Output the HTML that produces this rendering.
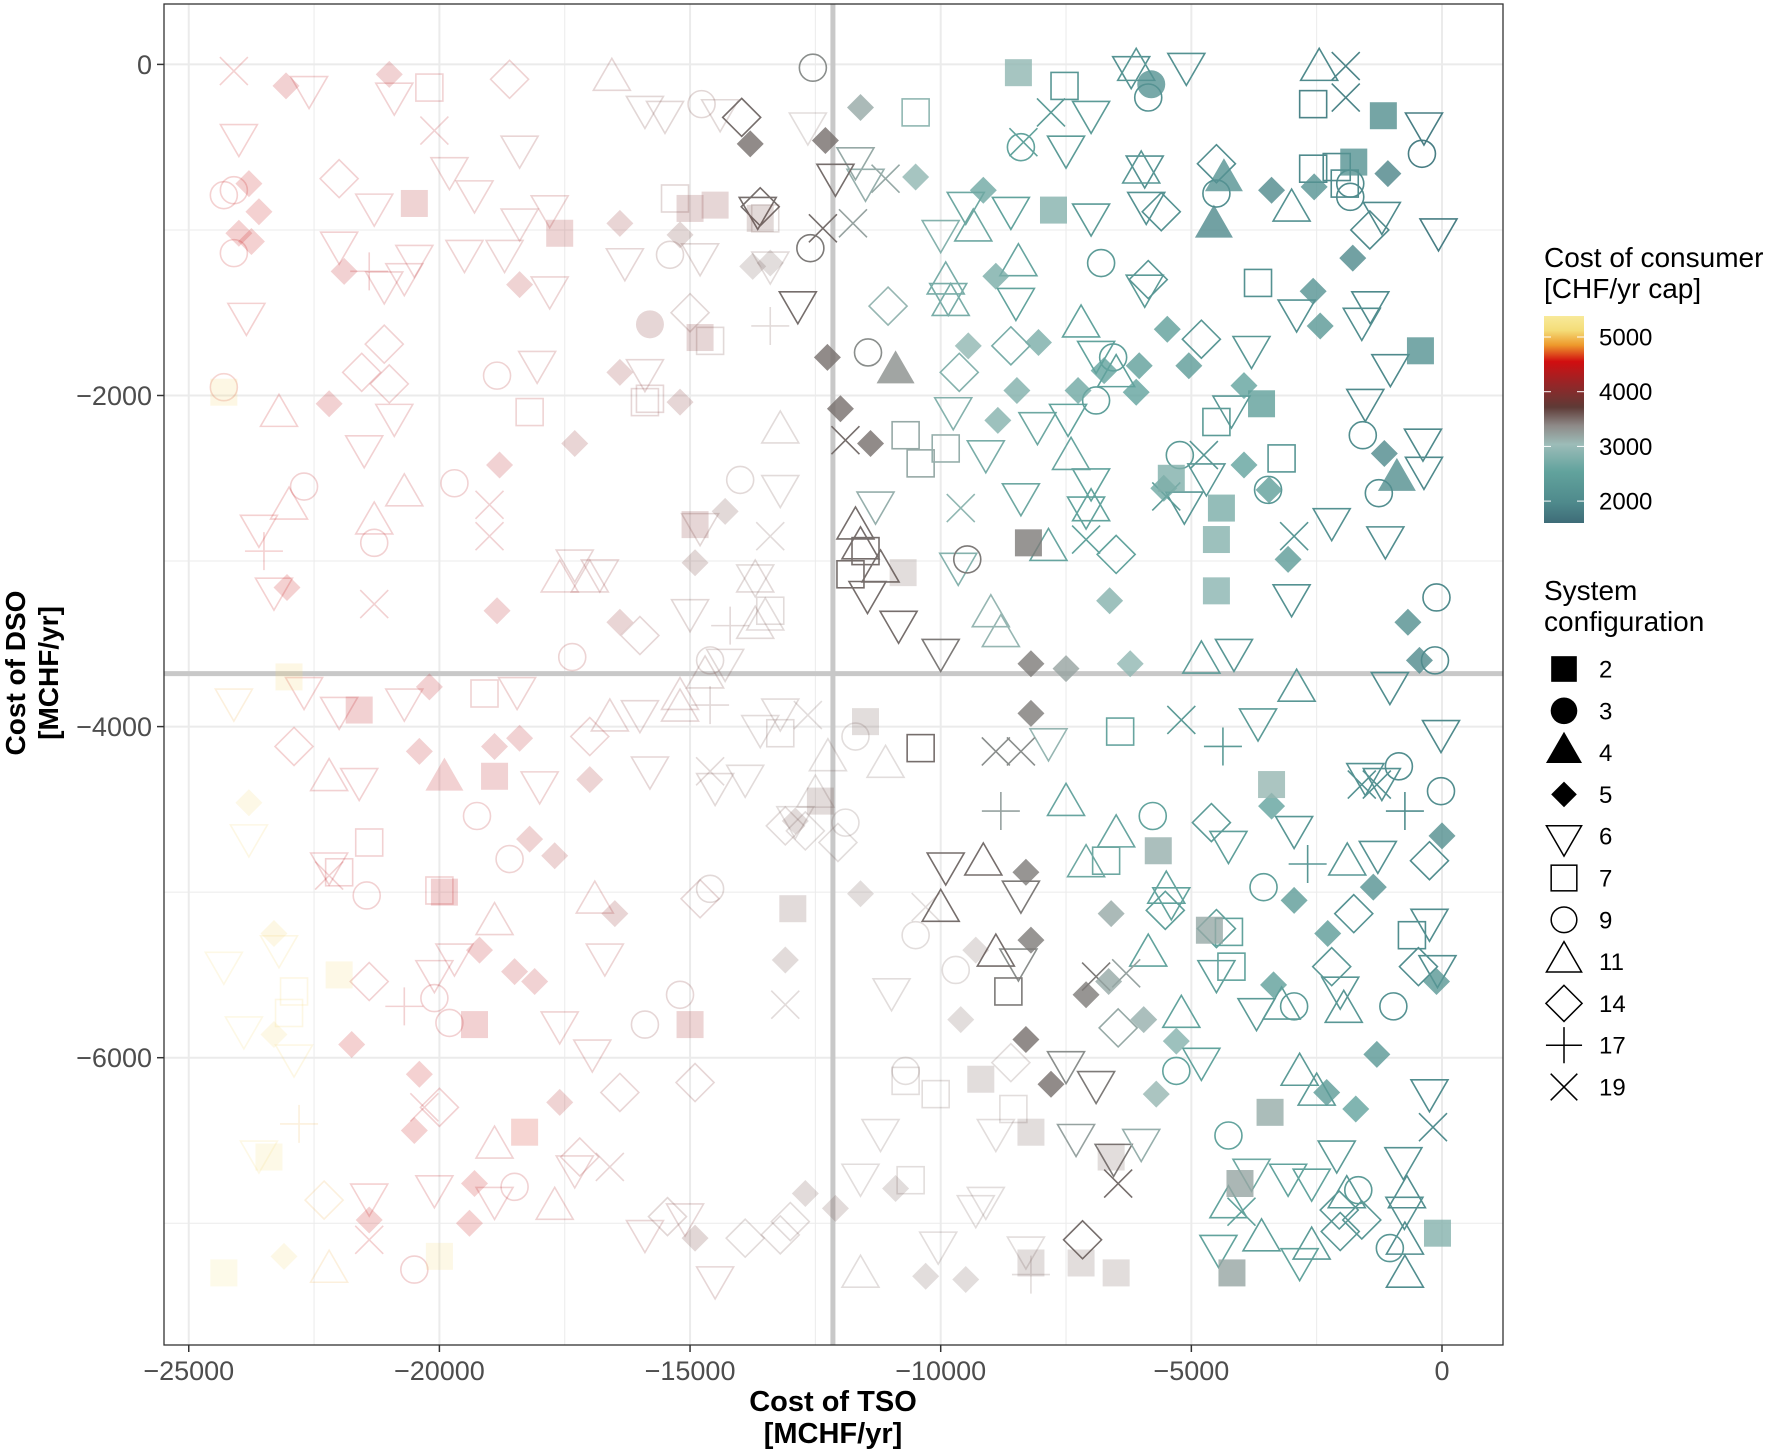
<!DOCTYPE html>
<html><head><meta charset="utf-8">
<style>
html,body{margin:0;padding:0;background:#fff;}
svg{display:block;font-family:"Liberation Sans",Arial,sans-serif;}
</style></head>
<body>
<svg id="chart" width="1772" height="1454" viewBox="0 0 1772 1454" xmlns="http://www.w3.org/2000/svg">
  <defs>
    <linearGradient id="cbar" x1="0" y1="1" x2="0" y2="0">
      <stop offset="0" stop-color="#3e6c78"/>
      <stop offset="0.1" stop-color="#4f8a8c"/>
      <stop offset="0.25" stop-color="#62a39d"/>
      <stop offset="0.38" stop-color="#9cbcb8"/>
      <stop offset="0.47" stop-color="#8e8a88"/>
      <stop offset="0.56" stop-color="#5e3a36"/>
      <stop offset="0.68" stop-color="#9a2426"/>
      <stop offset="0.78" stop-color="#d10e10"/>
      <stop offset="0.86" stop-color="#ee9a2c"/>
      <stop offset="0.93" stop-color="#f4dc78"/>
      <stop offset="1" stop-color="#f8ea9a"/>
    </linearGradient>
    <clipPath id="panelClip"><rect x="164" y="4" width="1339" height="1341"/></clipPath>
  </defs>
  <rect x="164" y="4" width="1339" height="1341" fill="#fff"/>
  <g id="grid"></g>
  <g id="refs"></g>
  <g id="points" clip-path="url(#panelClip)"></g>
  <rect x="164" y="4" width="1339" height="1341" fill="none" stroke="#333" stroke-width="1.3"/>
  <g id="axes"></g>
  <text x="833" y="1411" text-anchor="middle" font-size="29" font-weight="bold">Cost of TSO</text>
  <text x="833" y="1443" text-anchor="middle" font-size="29" font-weight="bold">[MCHF/yr]</text>
  <g transform="translate(0,673) rotate(-90)">
    <text x="0" y="25" text-anchor="middle" font-size="28" font-weight="bold">Cost of DSO</text>
    <text x="0" y="58" text-anchor="middle" font-size="28" font-weight="bold">[MCHF/yr]</text>
  </g>
  <g id="legend">
    <text x="1544" y="267" font-size="28">Cost of consumer</text>
    <text x="1544" y="298" font-size="28">[CHF/yr cap]</text>
    <rect x="1544" y="316" width="40" height="207" fill="url(#cbar)"/>
    <g id="cbticks"></g>
    <text x="1544" y="600" font-size="28">System</text>
    <text x="1544" y="631" font-size="28">configuration</text>
    <g id="shapeLegend"></g>
  </g>
</svg>
<script>
// ---- data (x, y in thousands MCHF/yr; cost in CHF/yr cap) ----
const xTicks = [-25000, -20000, -15000, -10000, -5000, 0];
const yTicks = [0, -2000, -4000, -6000];
const colorTicks = [5000, 4000, 3000, 2000];
const shapeCodes = [2, 3, 4, 5, 6, 7, 9, 11, 14, 17, 19];
const refX = -12150;
const refY = -3680;
const fadeAbove = 3330;

const pts2 = [[-1.17,-0.31,1950],[-1.76,-0.59,2000],[-0.43,-1.73,2000],[-3.6,-2.05,2150],[-4.4,-2.68,2400],[-5.4,-2.5,2450],[-4.5,-2.87,2500],[-4.5,-3.18,2550],[-3.4,-4.35,2700],[-5.66,-4.75,2800],[-4.64,-5.23,2900],[-3.43,-6.33,2850],[-4.03,-6.76,2950],[-4.19,-7.3,2950],[-0.09,-7.06,2500],[-8.25,-2.89,3200],[-7.75,-0.88,2500],[-8.45,-0.05,2600],[-19.9,-5.0,4300],[-24.3,-1.98,4900],[-23.0,-3.7,4900],[-22.0,-5.5,5000],[-24.3,-7.3,5200],[-23.4,-6.6,5100],[-20.0,-7.2,5000],[-18.3,-6.45,4500],[-15.0,-5.8,4000],[-14.8,-1.65,3800],[-14.5,-0.85,3800],[-15.0,-0.87,3800],[-13.6,-0.93,3600],[-12.4,-4.45,3500],[-11.5,-3.97,3400],[-9.2,-6.13,3400],[-8.2,-6.45,3400],[-7.2,-7.24,3400],[-6.6,-6.6,3400],[-12.95,-5.1,3500],[-17.6,-1.02,4000],[-20.5,-0.84,4100],[-19.3,-5.8,4300],[-18.9,-4.3,4200],[-21.6,-3.9,4300],[-14.9,-2.78,3800],[-8.2,-7.24,3400],[-6.5,-7.3,3400],[-10.75,-3.07,3400]];
const pts3 = [[-5.8,-0.12,2000],[-15.8,-1.57,3800]];
const pts4 = [[-4.55,-0.98,1900],[-4.35,-0.7,2000],[-10.9,-1.86,3100],[-0.9,-2.51,1950],[-19.9,-4.32,4300]];
const pts5 = [[-3.4,-0.76,1900],[-2.55,-0.74,2000],[-1.08,-0.66,1850],[-1.78,-1.17,1900],[-2.57,-1.37,2000],[-2.43,-1.58,2050],[-6.04,-1.82,2150],[-5.05,-1.82,2100],[-5.48,-1.6,2150],[-6.1,-1.98,2200],[-6.74,-1.85,2200],[-7.26,-1.97,2300],[-8.05,-1.68,2400],[-8.48,-1.97,2450],[-8.86,-2.15,2500],[-8.9,-1.28,2400],[-9.45,-1.7,2600],[-9.15,-0.76,2300],[-10.5,-0.68,2600],[-11.6,-0.26,2900],[-12.3,-0.46,3250],[-13.8,-0.48,3250],[-12.26,-1.77,3250],[-12.0,-2.08,3250],[-11.4,-2.29,3250],[-3.95,-2.42,2200],[-3.45,-2.57,2150],[-3.95,-1.94,2200],[-3.07,-2.99,2100],[-1.15,-2.35,1900],[-0.68,-3.37,1950],[-0.45,-3.6,1900],[0,-4.66,1950],[-1.37,-4.97,2000],[-2.95,-5.05,2100],[-2.28,-5.25,2100],[-0.11,-5.54,2050],[-1.3,-5.98,2050],[-3.36,-5.56,2150],[-2.3,-6.21,2100],[-1.72,-6.31,2200],[-5.7,-6.22,2700],[-5.3,-5.9,2500],[-5.95,-5.77,2800],[-6.65,-5.54,2900],[-6.6,-5.13,2900],[-7.1,-5.62,3200],[-7.8,-6.16,3250],[-8.3,-5.89,3250],[-8.2,-5.29,3200],[-8.3,-4.88,3200],[-8.2,-3.92,3200],[-8.2,-3.62,3200],[-7.5,-3.65,3000],[-6.22,-3.62,2600],[-6.63,-3.24,2500],[-3.4,-4.48,2200],[-5.55,-2.56,2300],
[-21,-0.06,4200],[-23.06,-0.13,4300],[-23.8,-0.72,4400],[-23.6,-0.89,4400],[-24,-1.02,4400],[-23.75,-1.07,4400],[-21.9,-1.25,4300],[-22.2,-2.05,4300],[-23.04,-3.16,4400],[-20.2,-3.76,4300],[-20.4,-4.15,4300],[-18.8,-2.42,4200],[-18.4,-1.33,4100],[-18.85,-3.3,4200],[-18.9,-4.12,4200],[-18.4,-4.07,4200],[-18.2,-4.68,4100],[-17.7,-4.78,4000],[-17,-4.32,4000],[-16.4,-1.86,3900],[-15.2,-2.04,3800],[-14.9,-3.01,3700],[-16.4,-3.37,3900],[-14.3,-2.7,3600],[-13.75,-1.22,3400],[-13.4,-1.2,3400],[-15.2,-1.03,3700],[-16.4,-0.96,3900],[-17.3,-2.29,3900],[-18.5,-5.48,4200],[-18.1,-5.54,4200],[-19.2,-5.35,4300],[-20.4,-6.1,4400],[-20.5,-6.44,4400],[-21.75,-5.92,4400],[-21.4,-6.98,4400],[-19.3,-6.76,4400],[-19.4,-7.0,4400],[-17.6,-6.27,4100],[-23.3,-5.25,4900],[-23.1,-7.2,5000],[-23.3,-5.86,5000],[-23.8,-4.46,5000],[-13.1,-5.41,3500],[-12.9,-4.57,3500],[-12.1,-6.91,3500],[-12.7,-6.82,3500],[-11.6,-5.01,3400],[-10.9,-6.79,3400],[-10.3,-7.32,3400],[-9.5,-7.34,3400],[-9.6,-5.77,3400],[-9.3,-5.35,3400],[-16.5,-5.13,3900],[-14.9,-7.09,3700]];
const pts6 = [[-5.1,0,2000],[-6.2,-0.02,2000],[-7,-0.29,2100],[-7.5,-0.5,2100],[-0.36,-0.36,1800],[-0.07,-1.0,1800],[-1.2,-0.9,1900],[-1.43,-1.44,1900],[-1.03,-1.82,1900],[-1.53,-2.03,1900],[-0.38,-2.27,1900],[-0.36,-2.44,1900],[-1.13,-2.86,1950],[-2.2,-2.75,2000],[-3,-3.21,2000],[-4.15,-3.54,2050],[-1.04,-3.74,1950],[-3.8,-1.71,2050],[-2.9,-1.49,2000],[-1.6,-1.54,1950],[-5.93,-0.62,2000],[-5.9,-0.84,2000],[-7,-0.91,2100],[-8.6,-0.87,2200],[-9.5,-0.84,2300],[-10,-1.01,2500],[-8.5,-1.42,2200],[-9.85,-1.39,2400],[-11.7,-0.57,2900],[-11.5,-0.7,2800],[-12.85,-1.44,3250],[-13.65,-0.87,3250],[-8.07,-2.17,2300],[-9.75,-2.08,2500],[-9.1,-2.34,2400],[-11.3,-2.65,2800],[-9.65,-3.02,2500],[-8.4,-2.6,2300],[-7.1,-2.68,2200],[-7,-2.51,2200],[-4.7,-2.48,2050],[-5.14,-2.65,2050],[-4.2,-2.07,2050],[-5.93,-1.34,2100],[-6.9,-1.74,2200],[-7.46,-2.12,2200],[-10.84,-3.37,3250],[-11.46,-3.19,3250],[-10,-3.54,3200],[-9.9,-4.83,3250],[-8.4,-5,3200],[-7.85,-4.08,2700],[-8.45,-5.41,3100],[-6.9,-6.15,3200],[-6.55,-6.59,3200],[-6,-6.5,2800],[-7.5,-6.03,3100],[-4.8,-6.01,2200],[-3.8,-6.68,2300],[-3.07,-6.71,2200],[-2.6,-6.74,2200],[-0.77,-6.61,2000],[-0.75,-6.91,2000],[-0.25,-6.2,1950],[-4.46,-7.14,2200],[-2.84,-7.22,2200],[-2.1,-6.57,2100],[-0.09,-5.45,1950],[-0.25,-5.17,1950],[-1.28,-4.76,2000],[-1.2,-4.32,2000],[-0.02,-4.03,1900],[-1.53,-4.29,2000],[-2.95,-4.61,2050],[-4.26,-4.7,2150],[-5.4,-5.04,2200],[-4.5,-5.48,2150],[-3.67,-3.96,2100],[-2.03,-5.58,2050],[-3.7,-5.71,2100],
[-24,-0.43,4400],[-23.85,-1.51,4400],[-23.6,-2.79,4400],[-23.3,-3.17,4400],[-24.1,-3.84,4800],[-23.8,-4.66,4900],[-24.3,-5.43,5000],[-23.9,-5.82,5000],[-23.2,-5.33,4900],[-22.9,-5.99,4900],[-23.6,-6.57,5000],[-22.6,-0.14,4300],[-20.9,-0.18,4200],[-21.3,-0.85,4200],[-22,-1.08,4300],[-20.7,-1.27,4200],[-21.1,-1.32,4200],[-19.5,-1.13,4100],[-18.4,-0.94,4000],[-18.7,-1.13,4000],[-18.05,-1.8,4000],[-17.8,-1.35,4000],[-18.4,-0.5,3900],[-19.8,-0.63,4100],[-20.9,-2.12,4200],[-21.5,-2.31,4300],[-22,-3.89,4300],[-22.7,-3.77,4400],[-21.6,-4.32,4300],[-22.2,-4.83,4300],[-20.7,-3.84,4200],[-18.45,-3.77,4100],[-18,-4.34,4100],[-19.7,-5.38,4200],[-20.1,-5.48,4200],[-17.6,-5.79,4100],[-16.7,-5.38,4000],[-16.95,-5.96,4000],[-17.3,-6.66,4000],[-20.1,-6.78,4300],[-21.4,-6.83,4400],[-18.9,-6.85,4200],[-15.9,-7.05,3900],[-15.1,-6.95,3800],[-14.5,-7.33,3800],[-14.8,-2.78,3700],[-14.8,-1.15,3700],[-15.5,-0.29,3700],[-15.9,-1.85,3800],[-17.3,-3.0,3900],[-16.8,-3.06,3900],[-13.2,-2.55,3500],[-13.7,-3.09,3500],[-15.0,-3.3,3700],[-14.3,-3.6,3600],[-13.2,-3.9,3500],[-13.6,-4.0,3500],[-13.9,-4.3,3500],[-16,-3.91,3800],[-15.8,-4.25,3800],[-12.9,-4.55,3400],[-14.5,-4.35,3600],[-11.6,-6.71,3400],[-11.2,-6.44,3400],[-10.98,-5.59,3400],[-10.05,-7.12,3400],[-9.1,-6.85,3400],[-8.9,-6.44,3400],[-8.3,-7.15,3400],[-9.3,-6.9,3400],[-7.3,-6.47,3000],[-12.65,-0.36,3400],[-12.1,-0.67,3250],[-13.4,-1.2,3500],[-14.4,-0.28,3600],[-15.9,-0.26,3700],[-16.3,-1.18,3800],[-19.3,-0.77,4100],[-20.5,-1.16,4200],[-17.8,-0.86,4000]];
const pts7 = [[-7.53,-0.13,2050],[-2.57,-0.24,1850],[-2.1,-0.62,1900],[-2.57,-0.63,1900],[-1.94,-0.72,1900],[-3.67,-1.32,2000],[-0.6,-5.26,1950],[-6.7,-4.81,2300],[-6.42,-4.03,2250],[-4.25,-5.24,2200],[-4.2,-5.45,2200],[-8.65,-5.6,3200],[-10.4,-4.13,3250],[-11.5,-2.94,3250],[-11.8,-3.08,3250],[-10.7,-2.24,2900],[-10.4,-2.41,2900],[-9.9,-2.32,2800],[-3.2,-2.38,2050],[-4.5,-2.16,2100],[-10.5,-0.29,2600],
[-20.2,-0.14,4200],[-21.4,-4.7,4300],[-20,-4.99,4300],[-22,-4.88,4300],[-18.2,-2.1,4100],[-15.9,-2.04,3800],[-19.1,-3.8,4100],[-23,-5.73,4900],[-22.9,-5.6,4900],[-10.7,-6.14,3400],[-10.1,-6.22,3400],[-8.55,-6.31,3400],[-10.6,-6.74,3400],[-13.4,-3.3,3500],[-13.2,-4.04,3500],[-13.5,-0.93,3500],[-15.3,-0.81,3700],[-14.6,-1.67,3600],[-15.8,-2.02,3800]];
const pts9 = [[-12.55,-0.02,3100],[-12.6,-1.11,3200],[-11.45,-1.74,3100],[-5.86,-0.2,2000],[-8.4,-0.5,2200],[-4.5,-0.78,1950],[-1.83,-0.72,1900],[-0.4,-0.54,1800],[-1.83,-0.8,1900],[-6.8,-1.2,2100],[-6.56,-1.77,2150],[-6.9,-2.03,2150],[-5.23,-2.36,2100],[-3.47,-2.57,2050],[-1.58,-2.24,1950],[-1.26,-2.59,1950],[-0.11,-3.22,1900],[-0.14,-3.6,1900],[-0.86,-4.24,1950],[-0.02,-4.39,1950],[-5.77,-4.54,2200],[-3.56,-4.97,2150],[-2.95,-5.69,2100],[-0.97,-5.69,2000],[-5.3,-6.08,2200],[-4.26,-6.47,2200],[-1.67,-6.8,2100],[-1.04,-7.15,2050],[-9.47,-2.99,3200],
[-14.77,-0.24,3700],[-15.4,-1.15,3700],[-18.85,-1.88,4100],[-19.7,-2.53,4200],[-22.7,-2.55,4300],[-21.3,-2.89,4300],[-24.1,-1.14,4400],[-24.3,-0.79,4400],[-24.1,-0.76,4400],[-24.3,-1.95,4500],[-17.35,-3.58,4000],[-14,-2.51,3600],[-14.6,-3.6,3600],[-11.7,-4.06,3400],[-11.9,-4.58,3400],[-14.6,-4.98,3600],[-18.6,-4.8,4100],[-19.25,-4.54,4200],[-21.45,-5.02,4300],[-20.1,-5.64,4300],[-19.8,-5.79,4300],[-15.9,-5.8,3800],[-15.2,-5.62,3800],[-18.5,-6.78,4200],[-20.5,-7.28,4300],[-10.5,-5.26,3400],[-9.7,-5.47,3400],[-10.7,-6.08,3400]];
const pts11 = [[-2.45,-0.03,1900],[-6.1,-0.03,2050],[-7.5,-4.47,2250],[-2.84,-6.1,2100],[-1.96,-5.72,2050],[-1.89,-4.83,2050],[-0.74,-7.32,1950],[-0.74,-7.12,1950],[-0.7,-6.84,1950],[-2.6,-7.15,2100],[-3.6,-7.1,2150],[-1.9,-6.84,2050],[-2.5,-6.22,2100],[-4.26,-6.9,2200],[-7.2,-1.58,2200],[-8.45,-1.21,2250],[-9.35,-1,2300],[-9.8,-1.45,2400],[-9.9,-1.32,2400],[-7.4,-2.38,2250],[-9,-3.33,2700],[-8.8,-3.45,2700],[-11.7,-2.8,3250],[-11.2,-3.06,3250],[-11.6,-2.92,3250],[-9.15,-4.83,3250],[-8.9,-5.38,3250],[-10.0,-5.11,3250],[-5.86,-5.38,2200],[-6.5,-4.66,2250],[-7.1,-4.84,2300],[-5.2,-5.75,2200],[-3.2,-5.7,2100],[-5.5,-5.0,2200],[-2.9,-3.78,2050],[-4.8,-3.61,2100],[-6.5,-1.88,2150],[-7.85,-2.93,2250],[-7.0,-2.69,2200],[-3.0,-0.88,2000],[-6.0,-0.65,2050],
[-16.56,-0.09,3800],[-23.2,-2.12,4400],[-23.0,-2.68,4400],[-22.2,-4.32,4300],[-21.3,-2.77,4300],[-20.7,-2.6,4200],[-18.9,-5.19,4100],[-18.9,-6.54,4200],[-17.7,-6.91,4100],[-22.2,-7.29,4800],[-17.0,-3.12,3900],[-16.6,-3.96,3900],[-15.2,-3.83,3800],[-13.7,-3.4,3600],[-14.7,-3.7,3700],[-17.6,-3.12,4000],[-16.9,-5.06,4000],[-15.2,-3.9,3800],[-13.7,-3.12,3600],[-12.25,-4.2,3400],[-11.1,-4.24,3400],[-11.6,-7.32,3400],[-13.2,-2.22,3500],[-12.5,-4.42,3400],[-13.5,-3.35,3500]];
const pts14 = [[-13.97,-0.32,3250],[-13.6,-0.86,3250],[-11.05,-1.46,2700],[-5.86,-1.3,2050],[-5.6,-0.89,2000],[-6.5,-2.96,2200],[-0.25,-4.81,1950],[-1.76,-5.13,2000],[-2.2,-5.45,2050],[-0.47,-5.45,1950],[-4.6,-4.58,2100],[-5.52,-5.11,2150],[-4.5,-5.22,2150],[-2.03,-7.05,2050],[-1.6,-6.98,2050],[-7.17,-7.1,3250],[-6.46,-5.82,2900],[-2.05,-6.92,2050],[-1.44,-1,1900],[-4.8,-1.66,2050],[-9.63,-1.86,2500],[-8.6,-1.7,2400],[-4.5,-0.6,1950],
[-18.6,-0.09,4100],[-22,-0.69,4300],[-22.9,-4.12,4400],[-22.3,-6.86,4800],[-21.4,-5.54,4300],[-20.0,-6.3,4300],[-16.4,-6.21,3900],[-14.9,-6.15,3800],[-14.8,-5.04,3800],[-12.7,-4.63,3400],[-12.05,-4.7,3400],[-13.1,-4.6,3500],[-13.9,-7.09,3500],[-13.2,-7.07,3500],[-8.6,-6.03,3400],[-13.0,-6.99,3500],[-15.45,-6.96,3700],[-17.2,-6.6,4000],[-17,-4.06,4000],[-16.0,-3.45,3800],[-15.0,-1.5,3700],[-21.1,-1.69,4200],[-21.0,-1.93,4200],[-21.55,-1.86,4300]];
const pts17 = [[-8.8,-4.51,3000],[-2.68,-4.83,2050],[-0.74,-4.51,1950],[-4.37,-4.12,2100],[-8.2,-7.31,3400],[-13.4,-1.58,3500],[-14.2,-3.39,3600],[-20.7,-5.69,4300],[-21.4,-1.25,4300],[-22.8,-6.4,4800],[-23.5,-2.94,4400],[-14.6,-3.87,3600]];
const pts19 = [[-1.92,-0.01,1850],[-1.92,-0.2,1850],[-7.8,-0.29,2100],[-8.35,-0.47,2200],[-9.6,-2.68,2600],[-11.75,-0.96,3000],[-11.1,-0.69,2900],[-12.35,-0.99,3250],[-11.9,-2.27,3250],[-5.2,-3.96,2100],[-5.5,-2.61,2100],[-7.1,-2.87,2200],[-6.9,-5.51,3200],[-6.3,-5.49,3000],[-6.46,-6.76,3250],[-4.0,-6.93,2200],[-1.6,-4.35,2000],[-1.3,-4.35,2000],[-0.18,-6.42,1950],[-4.75,-2.36,2050],[-2.95,-2.85,2050],[-8.4,-4.15,3100],[-8.9,-4.15,3100],
[-24.1,-0.04,4400],[-20.1,-0.4,4200],[-21.3,-3.26,4300],[-20.3,-6.3,4300],[-22.2,-4.9,4300],[-21.4,-7.1,4400],[-19.0,-2.85,4200],[-19.0,-2.66,4200],[-14.6,-4.27,3600],[-13.1,-5.68,3500],[-12.65,-3.93,3400],[-13.4,-2.85,3500],[-16.6,-6.66,3900],[-10.3,-5.09,3400]];

// ---- scales ----
const PL=164, PR=1503, PT=4, PB=1345;
function sx(v){ return 1442 + v/1000*50.13; }
function sy(v){ return 64.4 - v/1000*165.55; }
const colStops=[[1650,[62,108,120]],[1900,[79,138,140]],[2200,[98,163,157]],[2650,[150,185,181]],[3000,[150,162,160]],[3200,[125,122,120]],[3250,[118,110,108]],[3400,[110,84,80]],[3700,[110,55,52]],[4000,[165,38,40]],[4450,[205,22,24]],[4700,[236,140,50]],[4900,[244,215,120]],[5350,[248,234,154]]];
function colorOf(c){
  if(c<=colStops[0][0]) return 'rgb('+colStops[0][1].join(',')+')';
  for(let i=1;i<colStops.length;i++){
    if(c<=colStops[i][0]){
      const a=colStops[i-1],b=colStops[i],t=(c-a[0])/(b[0]-a[0]);
      return 'rgb('+a[1].map((v,k)=>Math.round(v+(b[1][k]-v)*t)).join(',')+')';
    }
  }
  return 'rgb('+colStops[colStops.length-1][1].join(',')+')';
}
const NS='http://www.w3.org/2000/svg';
function mk(tag,attrs,parent){const e=document.createElementNS(NS,tag);for(const k in attrs)e.setAttribute(k,attrs[k]);parent.appendChild(e);return e;}

function drawShape(g,code,cx,cy,col,op,scale){
  const s=scale||1;
  let e;
  const sw=1.6*s;
  if(code===2){ const h=13.5*s; e=mk('rect',{x:cx-h,y:cy-h,width:2*h,height:2*h,fill:col,'fill-opacity':op},g); }
  else if(code===3){ e=mk('circle',{cx:cx,cy:cy,r:14*s,fill:col,'fill-opacity':op},g); }
  else if(code===4){ const w=19*s; e=mk('polygon',{points:`${cx-w},${cy+11*s} ${cx+w},${cy+11*s} ${cx},${cy-22*s}`,fill:col,'fill-opacity':op},g); }
  else if(code===5){ const r=13.5*s; e=mk('polygon',{points:`${cx},${cy-r} ${cx+r},${cy} ${cx},${cy+r} ${cx-r},${cy}`,fill:col,'fill-opacity':op},g); }
  else if(code===6){ const w=18.5*s; e=mk('polygon',{points:`${cx-w},${cy-11*s} ${cx+w},${cy-11*s} ${cx},${cy+21*s}`,fill:'none',stroke:col,'stroke-width':sw,'stroke-opacity':op},g); }
  else if(code===7){ const h=13.5*s; e=mk('rect',{x:cx-h,y:cy-h,width:2*h,height:2*h,fill:'none',stroke:col,'stroke-width':sw,'stroke-opacity':op},g); }
  else if(code===9){ e=mk('circle',{cx:cx,cy:cy,r:13.5*s,fill:'none',stroke:col,'stroke-width':sw,'stroke-opacity':op},g); }
  else if(code===11){ const w=18.5*s; e=mk('polygon',{points:`${cx-w},${cy+11*s} ${cx+w},${cy+11*s} ${cx},${cy-21*s}`,fill:'none',stroke:col,'stroke-width':sw,'stroke-opacity':op},g); }
  else if(code===14){ const r=19*s; e=mk('polygon',{points:`${cx},${cy-r} ${cx+r},${cy} ${cx},${cy+r} ${cx-r},${cy}`,fill:'none',stroke:col,'stroke-width':sw,'stroke-opacity':op},g); }
  else if(code===17){ const r=19*s; e=mk('path',{d:`M${cx-r},${cy}H${cx+r}M${cx},${cy-r}V${cy+r}`,fill:'none',stroke:col,'stroke-width':sw,'stroke-opacity':op},g); }
  else { const r=14*s; e=mk('path',{d:`M${cx-r},${cy-r}L${cx+r},${cy+r}M${cx-r},${cy+r}L${cx+r},${cy-r}`,fill:'none',stroke:col,'stroke-width':sw,'stroke-opacity':op},g); }
  return e;
}

// grid
const grid=document.getElementById('grid');
for(let v=-25000; v<=0; v+=2500){
  const gl=mk('line',{x1:sx(v),x2:sx(v),y1:PT,y2:PB,stroke:'#ebebeb','stroke-width':v%5000===0?2:1},grid);
  
  
}
for(let v=0; v>=-7000; v-=1000){
  const gl=mk('line',{x1:PL,x2:PR,y1:sy(v),y2:sy(v),stroke:'#ebebeb','stroke-width':v%2000===0?2:1},grid);
  
  
}
const refs=document.getElementById('refs');
const rv=mk('line',{x1:sx(refX),x2:sx(refX),y1:PT,y2:PB,stroke:'#c8c8c8','stroke-width':5},refs);


const rh=mk('line',{x1:PL,x2:PR,y1:sy(refY),y2:sy(refY),stroke:'#c8c8c8','stroke-width':5},refs);



// points
const pg=document.getElementById('points');
const groups=[[2,pts2],[3,pts3],[4,pts4],[5,pts5],[6,pts6],[7,pts7],[9,pts9],[11,pts11],[14,pts14],[17,pts17],[19,pts19]];
const drawOrder=[6,11,14,7,9,17,19,5,2,3,4];
drawOrder.forEach(code=>{
  const arr=groups.find(g=>g[0]===code)[1];
  arr.forEach(p=>{
    const xv=p[0]*1000, yv=p[1]*1000;
    const faded = p[2] > fadeAbove;
    const filled=[2,3,4,5].includes(code);
    const op = faded ? 0.2 : (filled?0.8:1);
    const el=drawShape(pg,code,sx(xv),sy(yv),colorOf(p[2]),op);
    
    
  });
});

// axes
const ax=document.getElementById('axes');
xTicks.forEach(v=>{
  const t=mk('line',{x1:sx(v),x2:sx(v),y1:PB,y2:PB+7,stroke:'#333','stroke-width':1.5},ax);
  
  
  const l=mk('text',{x:sx(v),y:PB+35,'text-anchor':'middle','font-size':27,fill:'#4d4d4d'},ax);
  l.textContent=(v<0?'\u2212':'')+Math.abs(v);
  
  
});
yTicks.forEach(v=>{
  const t=mk('line',{x1:PL-7,x2:PL,y1:sy(v),y2:sy(v),stroke:'#333','stroke-width':1.5},ax);
  
  
  const l=mk('text',{x:PL-12,y:sy(v)+9.5,'text-anchor':'end','font-size':27,fill:'#4d4d4d'},ax);
  l.textContent=(v<0?'\u2212':'')+Math.abs(v);
  
  
});

// colorbar ticks
const cbt=document.getElementById('cbticks');
function cby(c){ return 337 + (5000-c)/1000*54.7; }
colorTicks.forEach(c=>{
  const y=cby(c);
  mk('line',{x1:1544,x2:1551,y1:y,y2:y,stroke:'#fff','stroke-width':1},cbt);
  mk('line',{x1:1577,x2:1584,y1:y,y2:y,stroke:'#fff','stroke-width':1},cbt);
  const l=mk('text',{x:1599,y:y+8.5,'font-size':24,fill:'#000'},cbt);
  l.textContent=c;
  
  
});
const sl=document.getElementById('shapeLegend');
shapeCodes.forEach((code,i)=>{
  const y=669+i*41.8;
  const g=mk('g',{},sl);
  
  
  drawShape(g,code,1564,y,'#000',1,0.95);
  const l=mk('text',{x:1599,y:y+8.5,'font-size':24,fill:'#000'},g);
  l.textContent=code;
});
</script>
</body></html>
